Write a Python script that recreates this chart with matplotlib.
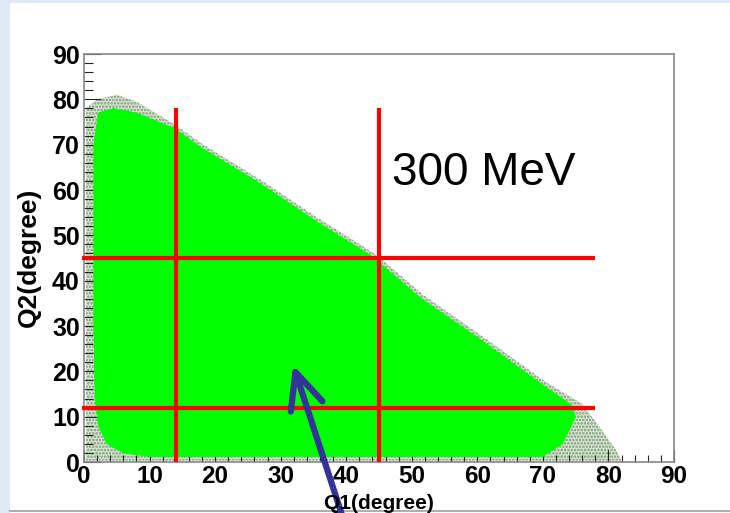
import numpy as np
import matplotlib
matplotlib.use('Agg')
import matplotlib.pyplot as plt
from matplotlib.patches import Polygon, Rectangle
from matplotlib.ticker import MultipleLocator

plt.rcParams['font.family'] = ['Liberation Sans', 'DejaVu Sans']

# outline of the dense (solid green) part of the Q1-Q2 population
core_q1 = [1.7, 2.2, 3.5, 6.0, 10.0, 70.0, 73.0, 75.0, 74.3, 70.0, 60.0, 51.3,
           44.0, 35.0, 26.8, 17.7, 13.9, 8.0, 4.5, 2.2, 1.5, 1.5]
core_q2 = [14.0, 8.0, 4.0, 2.0, 1.2, 1.2, 4.0, 10.0, 12.6, 17.0, 27.5, 36.2,
           45.3, 53.5, 61.5, 69.5, 73.5, 77.0, 78.0, 77.0, 70.0, 30.0]

# outline of the sparse fringe around it
halo_q1 = [0.3, 82.0, 81.0, 78.5, 76.0, 70.5, 60.5, 51.8, 44.5, 35.5, 27.2,
           18.0, 14.0, 8.0, 5.0, 2.0, 0.3]
halo_q2 = [0.3, 0.3, 3.0, 8.0, 12.8, 17.6, 28.0, 36.8, 45.8, 54.0, 62.0,
           70.2, 74.3, 79.5, 81.0, 80.0, 78.0]

# angular cuts
cut_q1 = [14, 45]
cut_q2 = [12, 45]
cut_q1_end = 78
cut_q2_end = 78

ticks = [0, 10, 20, 30, 40, 50, 60, 70, 80, 90]

fig = plt.figure(figsize=(7.30, 5.13), dpi=100)
fig.patch.set_facecolor('white')

# slide background bits
fig.add_artist(Rectangle((0, 0), 10 / 730, 1, transform=fig.transFigure,
                         facecolor='#dfeaf7', edgecolor='none', zorder=0))
fig.add_artist(Rectangle((0, 1 - 3 / 513), 1, 3 / 513, transform=fig.transFigure,
                         facecolor='#dfeaf7', edgecolor='none', zorder=0))
fig.add_artist(plt.Line2D([10 / 730, 1], [2 / 513, 2 / 513], transform=fig.transFigure,
                          color='#b0b0b0', lw=1.5, zorder=0))

ax = fig.add_axes([84 / 730, 51 / 513, 590 / 730, 408 / 513])

plt.rcParams['hatch.linewidth'] = 1.2
halo = Polygon(np.column_stack([halo_q1, halo_q2]), closed=True,
               facecolor='#cdebc6', edgecolor='#8c8c8c', hatch='.....', lw=0, zorder=1)
ax.add_patch(halo)
core = Polygon(np.column_stack([core_q1, core_q2]), closed=True,
               facecolor='#00ff00', edgecolor='#00ff00', lw=0.5, zorder=2)
ax.add_patch(core)

for q in cut_q1:
    ax.plot([q, q], [0, cut_q2_end], color='#ff0000', lw=3, zorder=3, solid_capstyle='butt')
for q in cut_q2:
    ax.plot([-0.3, cut_q1_end], [q, q], color='#ff0000', lw=3, zorder=3,
            solid_capstyle='butt', clip_on=False)

ax.set_xlim(0, 90)
ax.set_ylim(0, 90)
ax.set_xticks(ticks)
ax.set_yticks(ticks)
ax.xaxis.set_minor_locator(MultipleLocator(2))
ax.yaxis.set_minor_locator(MultipleLocator(2))
ax.tick_params(axis='both', which='both', direction='in', color='#222222', width=0.8)
ax.tick_params(axis='y', which='major', length=12, pad=3, labelsize=18)
ax.tick_params(axis='y', which='minor', length=6.5)
ax.tick_params(axis='x', which='major', length=8.5, pad=2.5, labelsize=17.5)
ax.tick_params(axis='x', which='minor', length=4.7)
for lab in ax.get_xticklabels() + ax.get_yticklabels():
    lab.set_fontweight('bold')
for s in ax.spines.values():
    s.set_color('#888888')
    s.set_linewidth(1.2)

ax.text(47.0, 61.0, '300 MeV', fontsize=33, color='black', ha='left', va='baseline', zorder=4)

fig.text(29 / 730, 1 - 257 / 513, 'Q2(degree)', rotation=90, fontsize=19, fontweight='bold',
         ha='center', va='center')
fig.text(379 / 730, 4 / 513, 'Q1(degree)', fontsize=15, fontweight='bold',
         ha='center', va='baseline')

ax.annotate('', xy=(31.9, 21.4), xycoords='data',
            xytext=(343 / 730, -0.01), textcoords='figure fraction',
            arrowprops=dict(arrowstyle='->,head_length=1.3,head_width=0.6', color='#333399',
                            lw=4.5, shrinkA=0, shrinkB=0, mutation_scale=20,
                            capstyle='round', joinstyle='round'),
            annotation_clip=False, zorder=5)

fig.savefig('out.png', dpi=100)
